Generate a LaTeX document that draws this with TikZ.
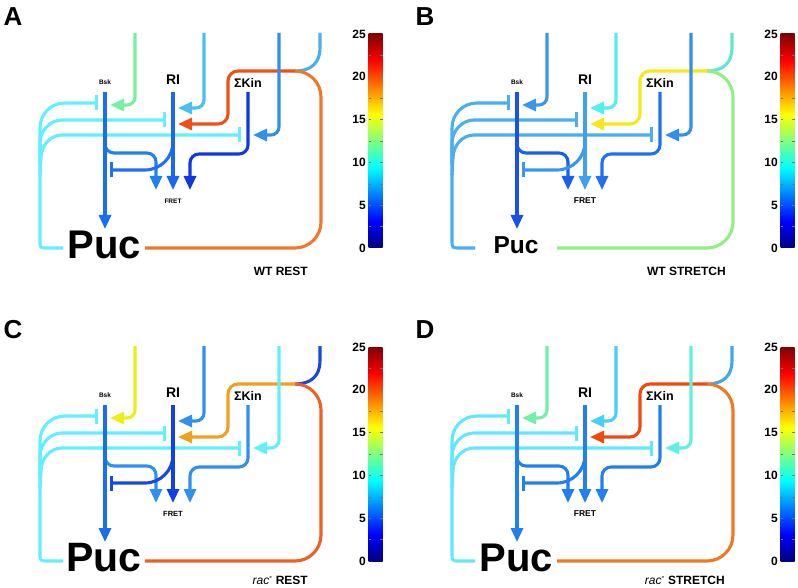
\documentclass[tikz,border=0pt]{standalone}
\usepackage{fontspec}
\setmainfont{Liberation Sans}
\usetikzlibrary{arrows.meta}
\definecolor{jet0}{rgb}{0,0,0.5}
\definecolor{jet1}{rgb}{0,0,1}
\definecolor{jet2}{rgb}{0,1,1}
\definecolor{jet3}{rgb}{1,1,0}
\definecolor{jet4}{rgb}{1,0,0}
\definecolor{jet5}{rgb}{0.5,0,0}
\pgfdeclareverticalshading{jetbar}{100bp}{color(0bp)=(jet0); color(25bp)=(jet0); color(31.25bp)=(jet1); color(43.75bp)=(jet2); color(56.25bp)=(jet3); color(68.75bp)=(jet4); color(75bp)=(jet5); color(100bp)=(jet5)}
\tikzset{
  conn/.style={line width=3.1pt},
  act/.style={-{Triangle[length=14pt,width=12pt]}},
  inh/.style={-{Bar[width=15pt,line width=2.6pt]}},
  cbtick/.style={black!55, line width=0.5pt},
  cblabel/.style={anchor=east, inner sep=0pt, font=\fontsize{12}{12}\selectfont\bfseries},
  caption/.style={anchor=east, inner sep=0pt, font=\fontsize{12}{12}\selectfont\bfseries}
}
\newcommand\drawpanel[5]{%
\begin{scope}[shift={(#1,#2)}]
  % colour bar
  \shade[shading=jetbar] (368.5,34) rectangle (382.5,248);
  \foreach \v in {2.5,5,...,22.5} {
    \draw[cbtick] (368.5,{248-\v*8.56}) -- ++(2.5,0);
    \draw[cbtick] (382.5,{248-\v*8.56}) -- ++(-2.5,0);
  }
  \foreach \v in {0,5,10,15,20,25} {
    \node[cblabel] at (366,{248-\v*8.56}) {\v};
  }
  % panel letter and labels
  \node[font=\fontsize{26}{26}\selectfont\bfseries, inner sep=0pt] (letter) at (13,17) {#5};
  \node[font=\fontsize{6.5}{7}\selectfont\bfseries, inner sep=0pt] (bsk) at (105,82) {Bsk};
  \node[font=\fontsize{14}{14}\selectfont\bfseries, inner sep=0pt] (ri) at (173,80) {RI};
  \node[font=\fontsize{12.5}{12.5}\selectfont\bfseries, inner sep=0pt] (kin) at (248,83) {ΣKin};
  \node[font=\fontsize{#4}{#4}\selectfont\bfseries, inner sep=0pt] (fret) at (173,201) {FRET};
  \node[font=\fontsize{#3}{#3}\selectfont\bfseries, inner sep=0pt] (puc) at (104,245) {Puc};
  \coordinate (J) at (295,71);
  \coordinate (pucL) at (63,248);
  \coordinate (pucR) at (145,248);
  % feedback inhibition from Puc
  \draw[conn, draw=cFb, inh] (pucL) -- (48,248) .. controls (40,248) .. (40,240) -- (40,128) .. controls (40,114) and (51,103) .. (65,103) -- (98,103);
  \draw[conn, draw=cFb, inh] (40,165) -- (40,143) .. controls (40,131) and (50,120) .. (62,120) -- (166,120);
  \draw[conn, draw=cFb, inh] (40,175) -- (41,158) .. controls (41,146) and (50,135) .. (62,135) -- (241,135);
  % loop from Puc and top right input
  \draw[conn, draw=cRtop] (320,33) -- (320,48) .. controls (320,63) and (311,71) .. (J);
  \draw[conn, draw=cLoop, rounded corners=26pt] (pucR) -| (321,71) -- (J);
  \draw[conn, draw=cToRI, act, rounded corners=10pt] (J) -| (228,124) -- (178,124);
  % inputs from top
  \draw[conn, draw=cInBsk, act, rounded corners=8pt] (135,33) |- (110,105);
  \draw[conn, draw=cInRI, act, rounded corners=8pt] (204,33) |- (178,108);
  \draw[conn, draw=cInKin, act, rounded corners=8pt] (279,33) |- (253,135);
  % internal connections
  \draw[conn, draw=cBskFret, act, rounded corners=9pt] (105,144) |- (156,153) -- (156,190);
  \draw[conn, draw=cRIBsk, inh, rounded corners=28pt] (173,140) |- (110,170);
  \draw[conn, draw=cBsk, act] (105,92) -- (105,229);
  \draw[conn, draw=cRI, act] (173,92) -- (173,190);
  \draw[conn, draw=cKin, act, rounded corners=9pt] (248,92) |- (190,154) -- (190,190);
\end{scope}}
\newcommand\setpanelcolors[6]{%
  \definecolor{cInBsk}{HTML}{#1}\definecolor{cInRI}{HTML}{#2}\definecolor{cToRI}{HTML}{#3}%
  \definecolor{cLoop}{HTML}{#4}\definecolor{cRtop}{HTML}{#5}\definecolor{cInKin}{HTML}{#6}}
\newcommand\setlinecolors[6]{%
  \definecolor{cBsk}{HTML}{#1}\definecolor{cRI}{HTML}{#2}\definecolor{cKin}{HTML}{#3}%
  \definecolor{cBskFret}{HTML}{#4}\definecolor{cRIBsk}{HTML}{#5}\definecolor{cFb}{HTML}{#6}}
\begin{document}
\begin{tikzpicture}[x=1pt,y=-1pt]
\useasboundingbox (0,0) rectangle (798,588);
\fill[white] (0,0) rectangle (798,588);
% A
\setpanelcolors{78F0A0}{48C0F0}{F05018}{F07828}{48B0F0}{3090F0}
\setlinecolors{1870F0}{1868F0}{1038E0}{2080F0}{2070F0}{60F0FF}
\drawpanel{0}{0}{40}{6.5}{A}
% B
\setpanelcolors{3898F0}{50F0F0}{F8E818}{90F080}{60E8C8}{3090F0}
\setlinecolors{1850E8}{40A0F0}{2070F0}{1860F0}{3898F0}{48B0F0}
\drawpanel{412}{0}{24.5}{8.5}{B}
% C
\setpanelcolors{E8F018}{3090F0}{F0A020}{F06020}{1848E0}{60F0F8}
\setlinecolors{1870F0}{1040E8}{3090F0}{3090F0}{1848E0}{60F0FF}
\drawpanel{0}{313}{41}{7.5}{C}
% D
\setpanelcolors{70F0A8}{48D0F8}{F04810}{F07820}{40A8F0}{60F0E0}
\setlinecolors{2080F0}{2080F0}{2080F0}{2080F0}{2080F0}{60E8FF}
\drawpanel{412}{313}{40}{8.5}{D}
% condition captions
\node[caption] (capA) at (308,271) {WT REST};
\node[caption] (capB) at (726,271) {WT STRETCH};
\node[caption] (capC) at (308,580) {{\mdseries\itshape rac}\textsuperscript{-} REST};
\node[caption] (capD) at (725,580) {{\mdseries\itshape rac}\textsuperscript{-} STRETCH};
\end{tikzpicture}
\end{document}
